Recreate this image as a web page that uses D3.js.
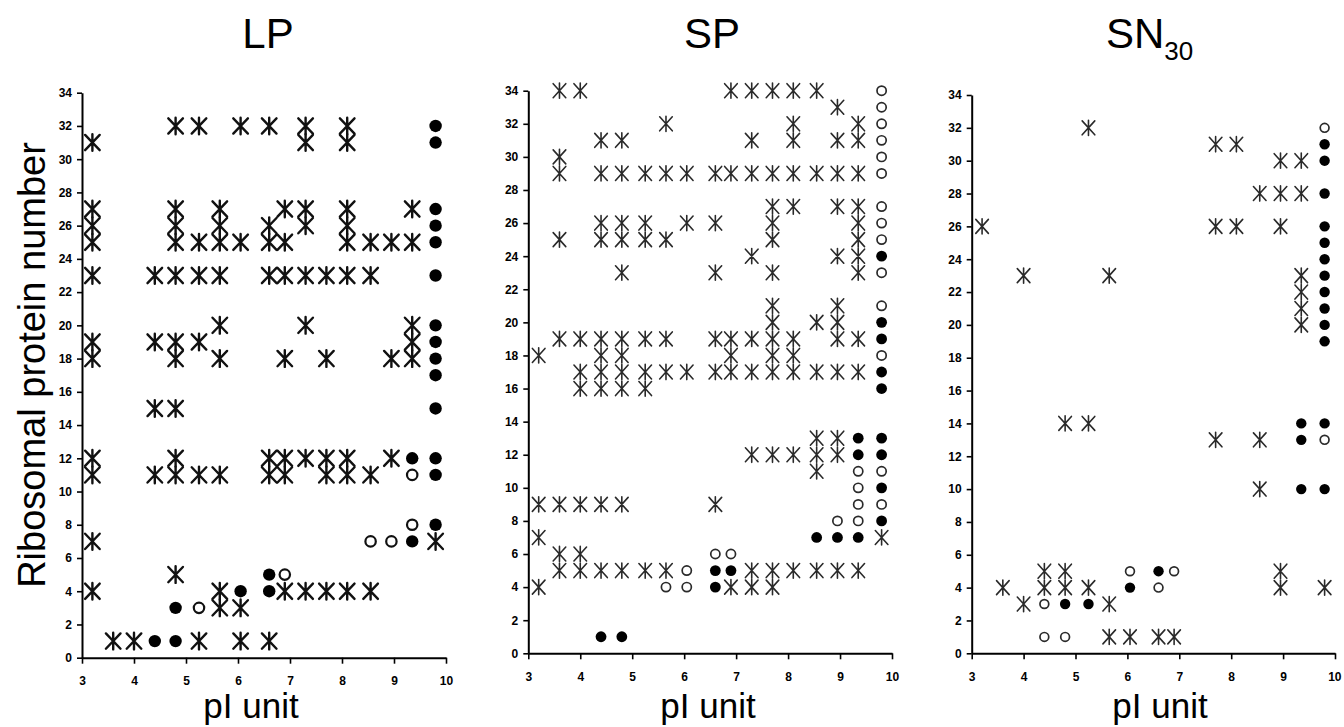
<!DOCTYPE html>
<html>
<head>
<meta charset="utf-8">
<script src="https://cdn.jsdelivr.net/npm/d3@7"></script>
<style>
  html, body { margin: 0; padding: 0; background: #fff; }
  svg { display: block; }
  text { font-family: "Liberation Sans", Arial, sans-serif; fill: #000; }
</style>
</head>
<body>
<svg id="chart" width="1344" height="727"></svg>
<script>
// ---------- DATA ----------
const xTicks = [3, 4, 5, 6, 7, 8, 9, 10];
const yTicks = d3.range(0, 35, 2);
const panelTitles = ["LP", "SP", "SN"];
const panelSubscripts = ["", "", "30"];
const xAxisLabel = "pI unit";
const yAxisLabel = "Ribosomal protein number";

// each entry: [pI, [ribosomal protein numbers]]
const lpAsterisk = [
  [3.2, [31, 27, 26, 25, 23, 19, 18, 12, 11, 7, 4]],
  [3.6, [1]],
  [4.0, [1]],
  [4.4, [23, 19, 15, 11]],
  [4.8, [32, 27, 26, 25, 23, 19, 18, 15, 12, 11, 5]],
  [5.25, [32, 25, 23, 19, 11, 1]],
  [5.65, [27, 26, 25, 23, 20, 18, 11, 4, 3]],
  [6.05, [32, 25, 3, 1]],
  [6.6, [32, 26, 25, 23, 12, 11, 1]],
  [6.9, [27, 25, 23, 18, 12, 11, 4]],
  [7.3, [32, 31, 27, 26, 23, 20, 12, 4]],
  [7.7, [23, 18, 12, 11, 4]],
  [8.1, [32, 31, 27, 26, 25, 23, 12, 11, 4]],
  [8.55, [25, 23, 11, 4]],
  [8.95, [25, 18, 12]],
  [9.35, [27, 25, 20, 19, 18]],
  [9.8, [7]]
];
const lpOpen = [
  [5.25, [3]], [6.9, [5]], [8.55, [7]], [8.95, [7]], [9.35, [11, 8]]
];
const lpFilled = [
  [4.4, [1]], [4.8, [3, 1]], [6.05, [4]], [6.6, [5, 4]], [9.35, [12, 7]],
  [9.8, [32, 31, 27, 26, 25, 23, 20, 19, 18, 17, 15, 12, 11, 8]]
];

const spAsterisk = [
  [3.2, [18, 9, 7, 4]],
  [3.6, [34, 30, 29, 25, 19, 9, 6, 5]],
  [4.0, [34, 19, 17, 16, 9, 6, 5]],
  [4.4, [31, 29, 26, 25, 19, 18, 17, 16, 9, 5]],
  [4.8, [31, 29, 26, 25, 23, 19, 18, 17, 16, 9, 5]],
  [5.25, [29, 26, 25, 19, 17, 16, 5]],
  [5.65, [32, 29, 25, 19, 17, 5]],
  [6.05, [29, 26, 17]],
  [6.6, [29, 26, 23, 19, 17, 9]],
  [6.9, [34, 29, 19, 18, 17, 4]],
  [7.3, [34, 31, 29, 24, 19, 17, 12, 5, 4]],
  [7.7, [34, 29, 27, 26, 25, 23, 21, 20, 19, 18, 17, 12, 5, 4]],
  [8.1, [34, 32, 31, 29, 27, 19, 18, 17, 12, 5]],
  [8.55, [34, 29, 20, 17, 13, 12, 11, 5]],
  [8.95, [33, 31, 29, 27, 24, 21, 20, 19, 17, 13, 12, 5]],
  [9.35, [32, 31, 29, 27, 26, 25, 24, 23, 19, 17, 5]],
  [9.8, [7]]
];
const spOpen = [
  [5.65, [4]], [6.05, [5, 4]], [6.6, [6]], [6.9, [6]], [8.95, [8]],
  [9.35, [11, 10, 9, 8]],
  [9.8, [34, 33, 32, 31, 30, 29, 27, 26, 25, 23, 21, 18, 11, 9]]
];
const spFilled = [
  [4.4, [1]], [4.8, [1]], [6.6, [5, 4]], [6.9, [5]], [8.55, [7]], [8.95, [7]],
  [9.35, [13, 12, 7]],
  [9.8, [24, 20, 19, 17, 16, 13, 12, 10, 8]]
];

const snAsterisk = [
  [3.2, [26]],
  [3.6, [4]],
  [4.0, [23, 3]],
  [4.4, [5, 4]],
  [4.8, [14, 5, 4]],
  [5.25, [32, 14, 4]],
  [5.65, [23, 3, 1]],
  [6.05, [1]],
  [6.6, [1]],
  [6.9, [1]],
  [7.7, [31, 26, 13]],
  [8.1, [31, 26]],
  [8.55, [28, 13, 10]],
  [8.95, [30, 28, 26, 5, 4]],
  [9.35, [30, 28, 23, 22, 21, 20]],
  [9.8, [4]]
];
const snOpen = [
  [4.4, [3, 1]], [4.8, [1]], [6.05, [5]], [6.6, [4]], [6.9, [5]], [9.8, [32, 13]]
];
const snFilled = [
  [4.8, [3]], [5.25, [3]], [6.05, [4]], [6.6, [5]], [9.35, [14, 13, 10]],
  [9.8, [31, 30, 28, 26, 25, 24, 23, 22, 21, 20, 19, 14, 10]]
];

// ---------- LAYOUT ----------
const flat = cols => cols.flatMap(([p, list]) => list.map(v => [p, v]));

const panels = [
  { title: panelTitles[0], sub: panelSubscripts[0], star: lpAsterisk, open: lpOpen, filled: lpFilled,
    xr: [82, 446], yr: [657.7, 92.7], titleX: 268, xLabelX: 251, yLabel: true,
    starW: 7.3, starH: 8.3, starStroke: 2.4, color: "#111", rF: 6.2, rO: 5.2, oStroke: 2.2 },
  { title: panelTitles[1], sub: panelSubscripts[1], star: spAsterisk, open: spOpen, filled: spFilled,
    xr: [528.3, 892], yr: [653.3, 90.7], titleX: 712, xLabelX: 708, yLabel: false,
    starW: 6.3, starH: 7.6, starStroke: 1.6, color: "#2a2a2a", rF: 5.4, rO: 4.6, oStroke: 1.7 },
  { title: panelTitles[2], sub: panelSubscripts[2], star: snAsterisk, open: snOpen, filled: snFilled,
    xr: [971.7, 1335], yr: [653.3, 95], titleX: 1106, xLabelX: 1160, yLabel: false,
    starW: 6.3, starH: 7.6, starStroke: 1.6, color: "#2a2a2a", rF: 5.2, rO: 4.4, oStroke: 1.7 }
];

const svg = d3.select("#chart");

panels.forEach(p => {
  const x = d3.scaleLinear().domain([3, 10]).range(p.xr);
  const y = d3.scaleLinear().domain([0, 34]).range(p.yr);
  const g = svg.append("g");

  // axes
  const yAxis = d3.axisLeft(y).tickValues(yTicks).tickFormat(d3.format("d"))
    .tickSize(5).tickSizeOuter(0).tickPadding(5);
  const xAxis = d3.axisBottom(x).tickValues(xTicks).tickFormat(d3.format("d"))
    .tickSize(6).tickSizeOuter(0).tickPadding(13);
  const gy = g.append("g").attr("transform", `translate(${p.xr[0]},0)`).call(yAxis);
  const gx = g.append("g").attr("transform", `translate(0,${p.yr[0]})`).call(xAxis);
  [gx, gy].forEach(a => {
    a.select(".domain").attr("stroke", "#000").attr("stroke-width", 2);
    a.selectAll(".tick line").attr("stroke", "#000").attr("stroke-width", 1.6);
    a.selectAll(".tick text").attr("font-family", "'Liberation Sans', Arial, sans-serif")
      .attr("font-size", 12).attr("font-weight", "bold").attr("fill", "#000");
  });
  // keep the last x tick label inside the page
  gx.selectAll(".tick text").filter(d => d === 10 && p.xr[1] > 1330)
    .attr("text-anchor", "end").attr("dx", 6);

  // asterisks
  const w = p.starW, h = p.starH;
  const starPath = `M0,${-h}V${h}M${-w},${-h * 0.92}L${w},${h * 0.92}M${-w},${h * 0.92}L${w},${-h * 0.92}`;
  g.append("g").selectAll("path").data(flat(p.star)).join("path")
    .attr("transform", d => `translate(${x(d[0])},${y(d[1])})`)
    .attr("d", starPath)
    .attr("fill", "none").attr("stroke", p.color)
    .attr("stroke-width", p.starStroke).attr("stroke-linecap", "round");

  // open circles
  g.append("g").selectAll("circle").data(flat(p.open)).join("circle")
    .attr("cx", d => x(d[0])).attr("cy", d => y(d[1])).attr("r", p.rO)
    .attr("fill", "#fff").attr("stroke", p.color).attr("stroke-width", p.oStroke);

  // filled circles
  g.append("g").selectAll("circle").data(flat(p.filled)).join("circle")
    .attr("cx", d => x(d[0])).attr("cy", d => y(d[1])).attr("r", p.rF)
    .attr("fill", "#000");

  // title
  const t = svg.append("text").attr("x", p.titleX).attr("y", 48)
    .attr("text-anchor", p.sub ? "start" : "middle")
    .attr("font-size", 42).text(p.title);
  if (p.sub) {
    t.append("tspan").attr("font-size", 26).attr("dy", 12).text(p.sub);
  }

  // x label
  svg.append("text").attr("x", p.xLabelX).attr("y", 718).attr("text-anchor", "middle")
    .attr("font-size", 35).text(xAxisLabel);

  if (p.yLabel) {
    svg.append("text").attr("transform", "translate(45,365) rotate(-90)")
      .attr("text-anchor", "middle").attr("font-size", 38).text(yAxisLabel);
  }
});
</script>
</body>
</html>
